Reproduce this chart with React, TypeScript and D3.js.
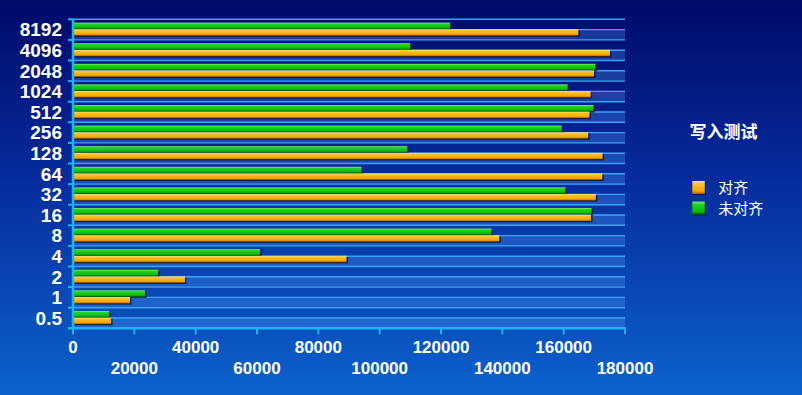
//@ts-nocheck
import { useEffect, useRef } from 'react';
import * as d3 from 'd3';

// block sizes, top to bottom
const categories = ['8192', '4096', '2048', '1024', '512', '256', '128', '64', '32', '16', '8', '4', '2', '1', '0.5'];
const unaligned = [123000, 110000, 170400, 161300, 169700, 159400, 109000, 94100, 160600, 169100, 136500, 61000, 27800, 23500, 11800];
const aligned = [164800, 175100, 169900, 168800, 168400, 168000, 172700, 172600, 170500, 168900, 139000, 89200, 36500, 18600, 12400];
const xTicks = [0, 20000, 40000, 60000, 80000, 100000, 120000, 140000, 160000, 180000];
const seriesNames = ['对齐', '未对齐'];
const title = '写入测试';

const W = 802;
const H = 395;

const App = () => {
    const svgRef = useRef();

    useEffect(() => {
        const svg = d3.select(svgRef.current);
        svg.selectAll('*').remove();

        const left = 73, right = 625, top = 19.3, bottom = 328.3;
        const x = d3.scaleLinear().domain([0, 180000]).range([left, right]);
        const y = d3.scaleBand().domain(categories).range([top, bottom]);
        const inner = d3.scaleBand().domain(['u', 'a']).range([3.3, 16.3]).paddingInner(0.04);

        const defs = svg.append('defs');
        const bg = defs.append('linearGradient').attr('id', 'bg').attr('x1', 0).attr('y1', 0).attr('x2', 0).attr('y2', 1);
        bg.append('stop').attr('offset', '0%').attr('stop-color', '#000a6a');
        bg.append('stop').attr('offset', '45%').attr('stop-color', '#062c9c');
        bg.append('stop').attr('offset', '100%').attr('stop-color', '#0c62cc');

        const mkGrad = (id, stops) => {
            const g = defs.append('linearGradient').attr('id', id).attr('x1', 0).attr('y1', 0).attr('x2', 0).attr('y2', 1);
            stops.forEach(([o, c]) => g.append('stop').attr('offset', o).attr('stop-color', c));
        };
        mkGrad('og', [['0%', '#ffe488'], ['22%', '#fcc232'], ['78%', '#f2a600'], ['100%', '#a85c00']]);
        mkGrad('gg', [['0%', '#80f470'], ['22%', '#22d422'], ['78%', '#0cb80c'], ['100%', '#006400']]);

        svg.append('rect').attr('width', W).attr('height', H).attr('fill', 'url(#bg)');

        // lighter stripes on the lower half of each row
        svg.append('g').selectAll('rect')
            .data(categories)
            .enter()
            .append('rect')
            .attr('x', left)
            .attr('y', d => y(d) + y.bandwidth() / 2)
            .attr('width', right - left)
            .attr('height', y.bandwidth() / 2)
            .attr('fill', 'rgba(90,160,255,0.28)');

        // grid lines at row edges and row middles
        const gridYs = [];
        categories.forEach(c => { gridYs.push(y(c)); gridYs.push(y(c) + y.bandwidth() / 2); });
        svg.append('g').selectAll('line')
            .data(gridYs)
            .enter()
            .append('line')
            .attr('x1', left).attr('x2', right)
            .attr('y1', d => d).attr('y2', d => d)
            .attr('stroke', '#3aa4f4')
            .attr('stroke-width', 1.4);

        // bars
        const drawBars = (vals, key, grad) => {
            const g = svg.append('g');
            vals.forEach((v, i) => {
                const by = y(categories[i]) + inner(key);
                const bw = x(v) - x(0);
                g.append('rect')
                    .attr('x', x(0) + 1.5).attr('y', by + 1.2)
                    .attr('width', bw).attr('height', inner.bandwidth())
                    .attr('fill', '#000820').attr('opacity', 0.7);
                g.append('rect')
                    .attr('x', x(0)).attr('y', by)
                    .attr('width', bw).attr('height', inner.bandwidth())
                    .attr('fill', `url(#${grad})`);
            });
        };
        drawBars(unaligned, 'u', 'gg');
        drawBars(aligned, 'a', 'og');

        const axisColor = '#1cb2f4';
        // left axis
        svg.append('line').attr('x1', left).attr('x2', left).attr('y1', top).attr('y2', bottom + 1)
            .attr('stroke', axisColor).attr('stroke-width', 2.5);
        const edges = categories.map(c => y(c)).concat([bottom]);
        svg.append('g').selectAll('line')
            .data(edges)
            .enter()
            .append('line')
            .attr('x1', left - 5).attr('x2', left)
            .attr('y1', d => d).attr('y2', d => d)
            .attr('stroke', axisColor).attr('stroke-width', 2);

        // bottom axis
        svg.append('line').attr('x1', left - 5).attr('x2', right + 1).attr('y1', bottom).attr('y2', bottom)
            .attr('stroke', axisColor).attr('stroke-width', 2.5);
        svg.append('g').selectAll('line')
            .data(xTicks)
            .enter()
            .append('line')
            .attr('x1', d => x(d)).attr('x2', d => x(d))
            .attr('y1', bottom).attr('y2', bottom + 6)
            .attr('stroke', axisColor).attr('stroke-width', 2);

        const font = '"Liberation Sans", Arial, "Noto Sans CJK SC", sans-serif';

        // category labels
        svg.append('g').selectAll('text')
            .data(categories)
            .enter()
            .append('text')
            .attr('x', 62)
            .attr('y', d => y(d) + y.bandwidth() / 2)
            .attr('dy', '0.36em')
            .attr('text-anchor', 'end')
            .style('font-family', font)
            .style('font-size', '19px')
            .style('font-weight', 'bold')
            .attr('fill', '#ffffff')
            .text(d => d);

        // x tick labels, staggered on two rows
        svg.append('g').selectAll('text')
            .data(xTicks)
            .enter()
            .append('text')
            .attr('x', d => x(d))
            .attr('y', (d, i) => (i % 2 === 0 ? 346.7 : 368))
            .attr('dy', '0.36em')
            .attr('text-anchor', 'middle')
            .style('font-family', font)
            .style('font-size', '17px')
            .style('font-weight', 'bold')
            .attr('fill', '#ffffff')
            .text(d => d);

        // legend
        const cjk = '"Noto Sans CJK SC", sans-serif';
        svg.append('text')
            .attr('x', 723.5).attr('y', 131.7).attr('dy', '0.36em')
            .attr('text-anchor', 'middle')
            .style('font-family', cjk)
            .style('font-size', '17px')
            .style('font-weight', 'bold')
            .attr('fill', '#ffffff')
            .text(title);

        const legend = svg.append('g');
        seriesNames.forEach((name, i) => {
            const ly = 181 + i * 20.6;
            legend.append('rect')
                .attr('x', 693.3).attr('y', ly + 1)
                .attr('width', 12.5).attr('height', 13)
                .attr('fill', '#000820').attr('opacity', 0.6);
            legend.append('rect')
                .attr('x', 692.3).attr('y', ly)
                .attr('width', 12.5).attr('height', 13)
                .attr('fill', i === 0 ? 'url(#og)' : 'url(#gg)');
            legend.append('text')
                .attr('x', 718.3).attr('y', ly + 6.8).attr('dy', '0.36em')
                .style('font-family', cjk)
                .style('font-size', '15px')
                .attr('fill', '#ffffff')
                .text(name);
        });
    }, []);

    return (
        <svg ref={svgRef} width={W} height={H} style={{ position: 'absolute', left: 0, top: 0, display: 'block' }}></svg>
    );
};

export default App;
